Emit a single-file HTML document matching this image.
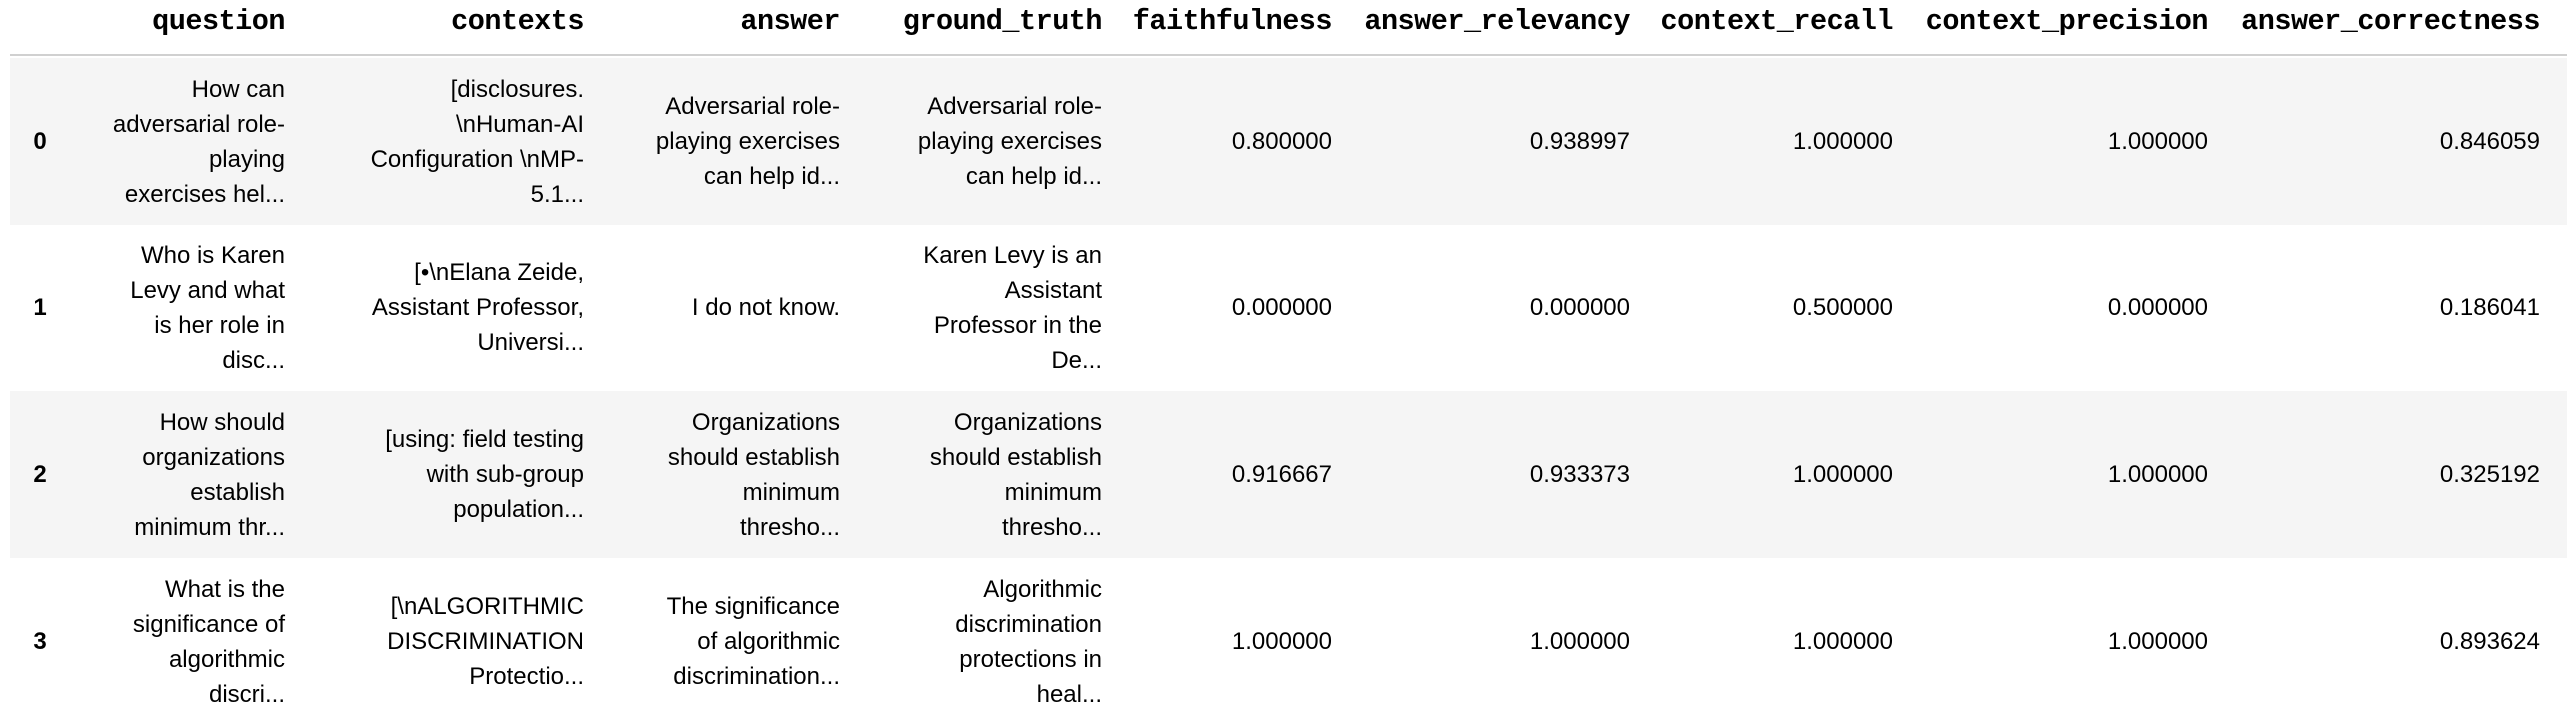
<!DOCTYPE html>
<html><head><meta charset="utf-8"><style>
html,body{margin:0;padding:0;background:#fff;}
body{width:2576px;height:716px;position:relative;overflow:hidden;font-family:"Liberation Sans",sans-serif;color:#000;}
.h{position:absolute;top:0;height:44px;line-height:44px;font-family:"Liberation Mono",monospace;font-weight:bold;font-size:28.5px;text-align:right;white-space:nowrap;letter-spacing:-0.5px;}
.hl{position:absolute;left:10px;width:2557px;top:54px;height:2px;background:#d0d0d0;}
.row{position:absolute;left:10px;width:2557px;height:167px;}
.c{position:absolute;height:167px;display:flex;align-items:center;justify-content:flex-end;text-align:right;font-size:24px;line-height:35px;white-space:nowrap;}
.i{font-weight:bold;justify-content:center;}
</style></head><body>
<div class="h" style="left:0;width:285px">question</div>
<div class="h" style="left:0;width:584px">contexts</div>
<div class="h" style="left:0;width:840px">answer</div>
<div class="h" style="left:0;width:1102px">ground_truth</div>
<div class="h" style="left:0;width:1332px">faithfulness</div>
<div class="h" style="left:0;width:1630px">answer_relevancy</div>
<div class="h" style="left:0;width:1893px">context_recall</div>
<div class="h" style="left:0;width:2208px">context_precision</div>
<div class="h" style="left:0;width:2540px">answer_correctness</div>
<div class="hl"></div>

<div class="row" style="top:58px;background:#f5f5f5"></div>
<div class="row" style="top:391px;background:#f5f5f5"></div>

<div id="cells"></div>
<script>
const rowTops=[58,224,391,558];
const indexLabels=["0","1","2","3"];
const questions=[["How can","adversarial role-","playing","exercises hel..."],["Who is Karen","Levy and what","is her role in","disc..."],["How should","organizations","establish","minimum thr..."],["What is the","significance of","algorithmic","discri..."]];
const contexts=[["[disclosures.","\\nHuman-AI","Configuration \\nMP-","5.1..."],["[•\\nElana Zeide,","Assistant Professor,","Universi..."],["[using: field testing","with sub-group","population..."],["[\\nALGORITHMIC","DISCRIMINATION","Protectio..."]];
const answers=[["Adversarial role-","playing exercises","can help id..."],["I do not know."],["Organizations","should establish","minimum","thresho..."],["The significance","of algorithmic","discrimination..."]];
const truths=[["Adversarial role-","playing exercises","can help id..."],["Karen Levy is an","Assistant","Professor in the","De..."],["Organizations","should establish","minimum","thresho..."],["Algorithmic","discrimination","protections in","heal..."]];
const faithfulness=["0.800000","0.000000","0.916667","1.000000"];
const relevancy=["0.938997","0.000000","0.933373","1.000000"];
const recall=["1.000000","0.500000","1.000000","1.000000"];
const precision=["1.000000","0.000000","1.000000","1.000000"];
const correctness=["0.846059","0.186041","0.325192","0.893624"];
const cols=[["index",indexLabels,40],["question",questions,285],["contexts",contexts,584],["answer",answers,840],["ground-truth",truths,1102],["faithfulness",faithfulness,1332],["answer-relevancy",relevancy,1630],["context-recall",recall,1893],["context-precision",precision,2208],["answer-correctness",correctness,2540]];
const host=document.getElementById('cells');
rowTops.forEach((t,r)=>{
  cols.forEach(([name,arr,right],ci)=>{
    const d=document.createElement('div');
    d.className='c'+(ci===0?' i':'');
    
    
    d.style.top=t+'px';
    if(ci===0){d.style.left='20px';d.style.width='40px';}
    else{d.style.left='0px';d.style.width=right+'px';}
    const v=arr[r];
    d.innerHTML='<div>'+(Array.isArray(v)?v.join('<br>'):v)+'</div>';
    host.appendChild(d);
  });
});
</script>
</body></html>
